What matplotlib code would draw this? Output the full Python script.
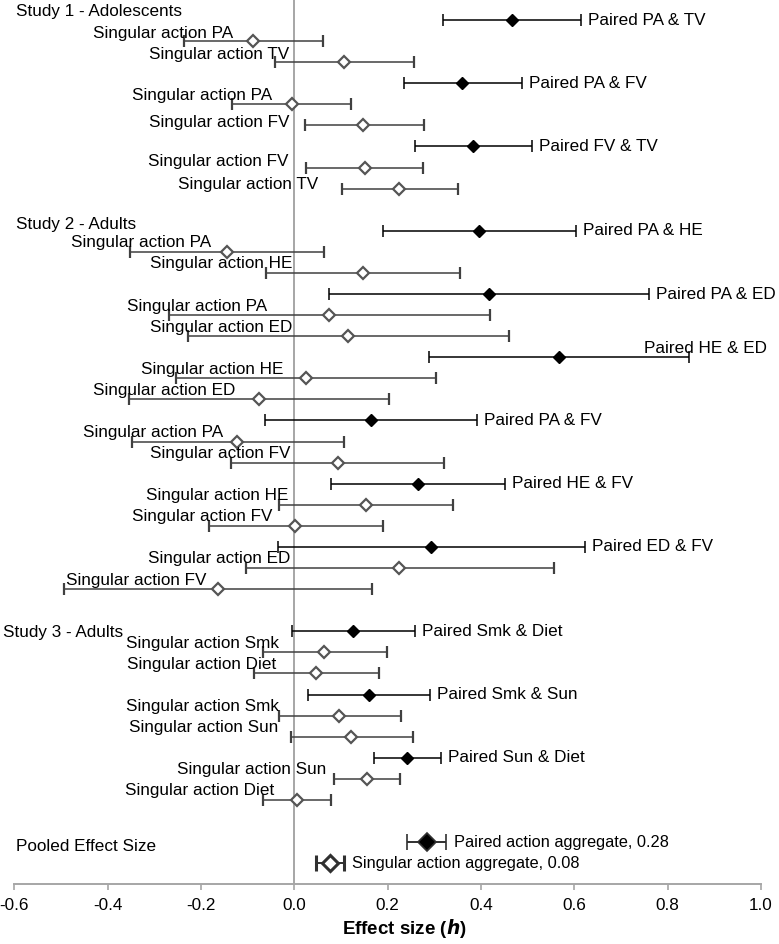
import matplotlib
matplotlib.use("Agg")
import matplotlib.pyplot as plt

plt.rcParams['font.family'] = ['Liberation Sans', 'DejaVu Sans']

# ---------------- data ----------------
# row index (position on the forest plot), kind, label, estimate, lower CI, upper CI
rows_idx = [0, 1, 2, 3, 4, 5, 6, 7, 8,
            10, 11, 12, 13, 14, 15, 16, 17, 18, 19, 20, 21, 22, 23, 24, 25, 26, 27,
            29, 30, 31, 32, 33, 34, 35, 36, 37]
kinds = ['P', 'S', 'S', 'P', 'S', 'S', 'P', 'S', 'S',
         'P', 'S', 'S', 'P', 'S', 'S', 'P', 'S', 'S', 'P', 'S', 'S', 'P', 'S', 'S', 'P', 'S', 'S',
         'P', 'S', 'S', 'P', 'S', 'S', 'P', 'S', 'S']
labels = ['Paired PA & TV', 'Singular action PA', 'Singular action TV',
          'Paired PA & FV', 'Singular action PA', 'Singular action FV',
          'Paired FV & TV', 'Singular action FV', 'Singular action TV',
          'Paired PA & HE', 'Singular action PA', 'Singular action HE',
          'Paired PA & ED', 'Singular action PA', 'Singular action ED',
          'Paired HE & ED', 'Singular action HE', 'Singular action ED',
          'Paired PA & FV', 'Singular action PA', 'Singular action FV',
          'Paired HE & FV', 'Singular action HE', 'Singular action FV',
          'Paired ED & FV', 'Singular action ED', 'Singular action FV',
          'Paired Smk & Diet', 'Singular action Smk', 'Singular action Diet',
          'Paired Smk & Sun', 'Singular action Smk', 'Singular action Sun',
          'Paired Sun & Diet', 'Singular action Sun', 'Singular action Diet']
estimates = [0.466, -0.088, 0.107, 0.360, -0.005, 0.148, 0.383, 0.151, 0.225,
             0.396, -0.144, 0.147, 0.417, 0.075, 0.115, 0.567, 0.024, -0.076,
             0.164, -0.122, 0.093, 0.264, 0.154, 0.001, 0.292, 0.225, -0.163,
             0.125, 0.064, 0.047, 0.159, 0.096, 0.122, 0.241, 0.155, 0.005]
lowers = [0.319, -0.236, -0.041, 0.234, -0.133, 0.022, 0.259, 0.025, 0.102,
          0.189, -0.353, -0.061, 0.074, -0.268, -0.227, 0.289, -0.254, -0.354,
          -0.063, -0.348, -0.135, 0.079, -0.033, -0.183, -0.036, -0.104, -0.493,
          -0.006, -0.068, -0.086, 0.029, -0.033, -0.008, 0.171, 0.084, -0.068]
uppers = [0.614, 0.061, 0.256, 0.487, 0.121, 0.277, 0.509, 0.276, 0.351,
          0.604, 0.064, 0.356, 0.759, 0.419, 0.459, 0.845, 0.303, 0.202,
          0.391, 0.106, 0.320, 0.451, 0.340, 0.189, 0.622, 0.556, 0.166,
          0.259, 0.198, 0.181, 0.291, 0.228, 0.254, 0.314, 0.226, 0.078]

# pooled effect sizes
pooled_idx = [39, 40]
pooled_labels = ['Paired action aggregate, 0.28', 'Singular action aggregate, 0.08']
pooled_est = [0.284, 0.076]
pooled_low = [0.242, 0.047]
pooled_up = [0.325, 0.106]

# section headings
study_titles = ['Study 1 - Adolescents', 'Study 2 - Adults', 'Study 3 - Adults', 'Pooled Effect Size']
study_title_rows = [-0.40, 9.72, 29.05, 39.22]
study_title_x = [-0.596, -0.596, -0.624, -0.596]

# layout of singular labels (right edge in data units, vertical shift in rows)
singular_label_right = {1: -0.131, 2: -0.011, 4: -0.048, 5: -0.011, 7: -0.012, 8: 0.051,
                        11: -0.178, 12: -0.005, 14: -0.058, 15: -0.005, 17: -0.024, 18: -0.127,
                        20: -0.152, 21: -0.009, 23: -0.012, 24: -0.046, 26: -0.009, 27: -0.188,
                        30: -0.033, 31: -0.038, 33: -0.032, 34: -0.034, 36: 0.068, 37: -0.043}
singular_label_dy = {1: -0.37, 2: -0.37, 4: -0.41, 5: -0.12, 7: -0.28, 8: -0.20}

xticks = [-0.6, -0.4, -0.2, 0.0, 0.2, 0.4, 0.6, 0.8, 1.0]

# ---------------- figure ----------------
W, H = 779, 944
fig = plt.figure(figsize=(W / 100, H / 100), dpi=100)
ax = fig.add_axes([14.3 / W, 1 - 884 / H, (761 - 14.3) / W, 884 / H])
ax.set_xlim(-0.6, 1.0)
ax.set_ylim(40.99, -0.949)

PX = 0.72  # points per pixel
FS = 12.3
grey_axis = '#a6a6a6'

ax.axvline(0, color=grey_axis, lw=1.4, zorder=0)

for i, k, lab, e, lo, hi in zip(rows_idx, kinds, labels, estimates, lowers, uppers):
    if k == 'P':
        ax.errorbar([e], [i], xerr=[[e - lo], [hi - e]], fmt='D', color='black',
                    ecolor='black', elinewidth=1.1, capsize=4.5, capthick=1.1,
                    markersize=6.5, markerfacecolor='black', markeredgecolor='black',
                    zorder=3)
        if lab == 'Paired HE & ED':
            ax.text(0.750, i - 0.43, lab, fontsize=FS, ha='left', va='center', zorder=4)
        else:
            ax.annotate(lab, (hi, i), xytext=(7 * PX, 0), textcoords='offset points',
                        fontsize=FS, ha='left', va='center')
    else:
        ax.errorbar([e], [i], xerr=[[e - lo], [hi - e]], fmt='D', color='#404040',
                    ecolor='#404040', elinewidth=1.1, capsize=4.5, capthick=1.1,
                    markersize=6.0, markerfacecolor='white', markeredgecolor='#555555',
                    markeredgewidth=1.6, zorder=3)
        ax.text(singular_label_right[i], i + singular_label_dy.get(i, -0.43), lab,
                fontsize=FS, ha='right', va='center', zorder=4)

# pooled
for j, (i, lab, e, lo, hi) in enumerate(zip(pooled_idx, pooled_labels, pooled_est, pooled_low, pooled_up)):
    if j == 0:
        ax.errorbar([e], [i], xerr=[[e - lo], [hi - e]], fmt='D', color='black',
                    ecolor='#303030', elinewidth=1.4, capsize=5.5, capthick=1.4,
                    markersize=9, markerfacecolor='black', markeredgecolor='#303030',
                    markeredgewidth=1.2, zorder=3)
    else:
        ax.errorbar([e], [i], xerr=[[e - lo], [hi - e]], fmt='D', color='#303030',
                    ecolor='#303030', elinewidth=1.4, capsize=5.5, capthick=1.4,
                    markersize=8.5, markerfacecolor='white', markeredgecolor='#303030',
                    markeredgewidth=2.2, zorder=3)
    ax.annotate(lab, (hi, i), xytext=(8 * PX, 0), textcoords='offset points',
                fontsize=11.8, ha='left', va='center')

for t, r, x in zip(study_titles, study_title_rows, study_title_x):
    ax.text(x, r, t, fontsize=FS, ha='left', va='center', clip_on=False)

# axes styling
for s in ['top', 'right', 'left']:
    ax.spines[s].set_visible(False)
ax.spines['bottom'].set_color(grey_axis)
ax.spines['bottom'].set_linewidth(1.4)
ax.set_yticks([])
ax.set_xticks(xticks)
ax.set_xticklabels([f'{v:.1f}' for v in xticks])
ax.tick_params(axis='x', direction='out', length=4, width=1.2, color=grey_axis,
               labelsize=FS, pad=6)
ax.set_xlabel(r'Effect size ($\boldsymbol{h}$)', fontsize=13.5, fontweight='bold', labelpad=3)
ax.xaxis.label.set_x(0.523)

fig.savefig('out.png', dpi=100)
